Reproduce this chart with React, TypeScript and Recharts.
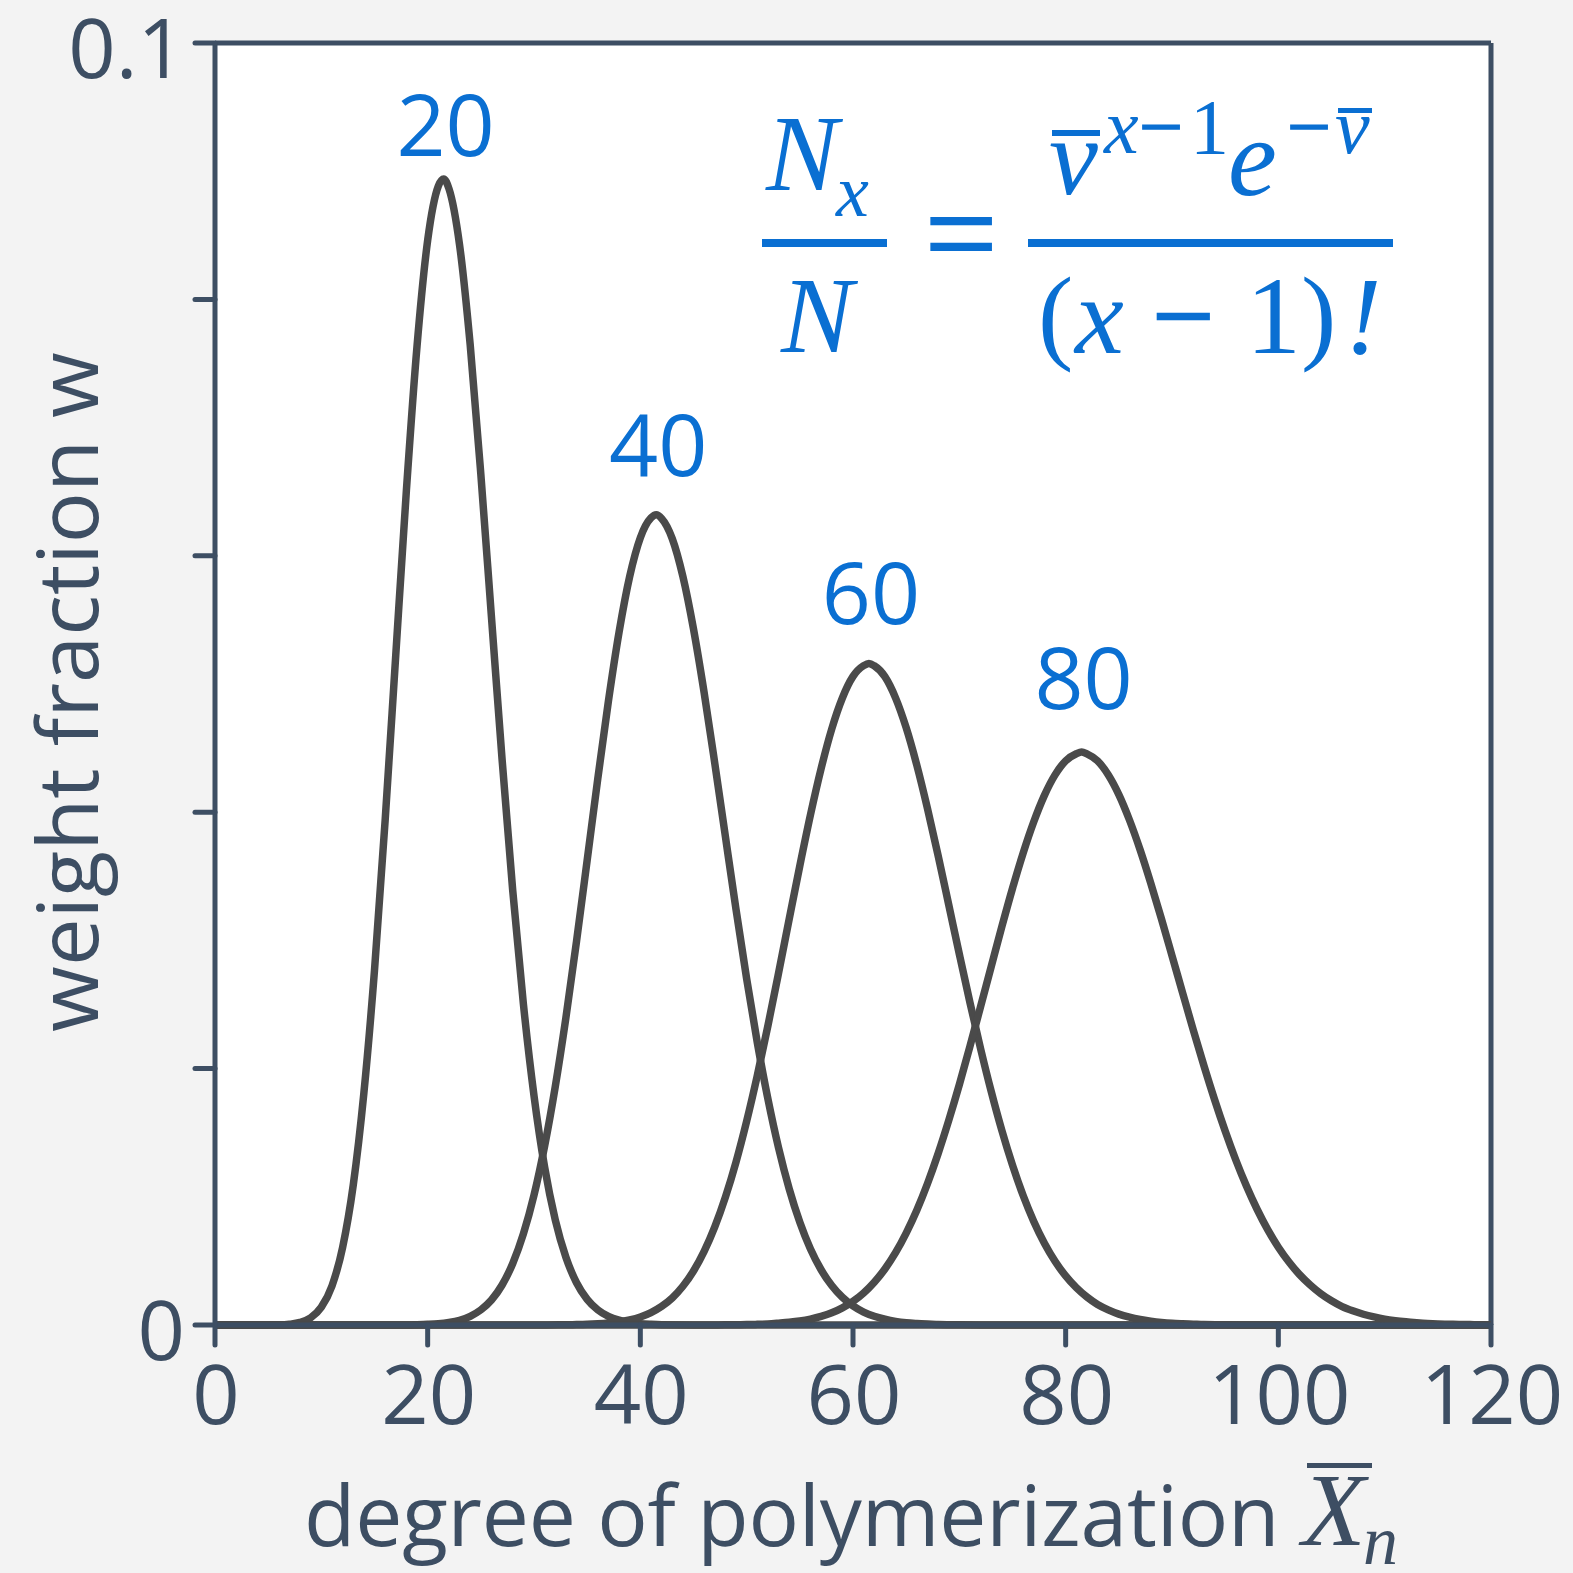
import { LineChart, Line, XAxis, YAxis, CartesianGrid, ReferenceLine, Customized } from 'recharts';

// degree of polymerization x, weight fraction w
const series20: [number, number][] = [
  [0, 0], [5, 0], [6, 0.00001], [7, 0.00006], [8, 0.0002], [9, 0.00056], [10, 0.00139], [11, 0.00305],
  [12, 0.00605], [13, 0.01091], [14, 0.01808], [15, 0.02767], [16, 0.03935], [17, 0.05227], [18, 0.06511],
  [19, 0.07636], [20, 0.08461], [21, 0.08884], [21.5, 0.0894], [22, 0.08864], [23, 0.08425], [24, 0.07645],
  [25, 0.06636], [26, 0.05521], [27, 0.0441], [28, 0.03388], [29, 0.02506], [30, 0.01789], [31, 0.01231],
  [32, 0.0082], [33, 0.00528], [34, 0.0033], [35, 0.002], [36, 0.00118], [37, 0.00067], [38, 0.00038],
  [39, 0.0002], [40, 0.0001], [41, 0.00005], [42, 0.00002], [45, 0], [120, 0],
];
const series40: [number, number][] = [
  [0, 0], [18, 0], [19, 0.00002], [20, 0.00005], [21, 0.0001], [22, 0.0002], [23, 0.00037], [24, 0.00068],
  [25, 0.00118], [26, 0.00195], [27, 0.00312], [28, 0.0048], [29, 0.0071], [30, 0.01013], [31, 0.01397],
  [32, 0.0186], [33, 0.02397], [34, 0.02994], [35, 0.03625], [36, 0.04262], [37, 0.04867], [38, 0.05404],
  [39, 0.05839], [40, 0.06141], [41, 0.06295], [41.5, 0.0632], [42, 0.06291], [43, 0.06134], [44, 0.05839],
  [45, 0.05429], [46, 0.04933], [47, 0.04382], [48, 0.0381], [49, 0.03241], [50, 0.027], [51, 0.02203],
  [52, 0.01762], [53, 0.01381], [54, 0.01062], [55, 0.00801], [56, 0.00593], [57, 0.00431], [58, 0.00308],
  [59, 0.00216], [60, 0.00149], [61, 0.00101], [62, 0.00068], [63, 0.00045], [64, 0.00028], [65, 0.00017],
  [66, 0.00011], [67, 0.00007], [68, 0.00004], [70, 0.00001], [72, 0], [120, 0],
];
const series60: [number, number][] = [
  [0, 0], [31, 0], [33, 0.00002], [34, 0.00003], [35, 0.00005], [36, 0.00009], [37, 0.00015], [38, 0.00024],
  [39, 0.0004], [40, 0.00063], [41, 0.00097], [42, 0.00145], [43, 0.00211], [44, 0.00302], [45, 0.00421],
  [46, 0.00574], [47, 0.00765], [48, 0.00997], [49, 0.01272], [50, 0.0159], [51, 0.01946], [52, 0.02335],
  [53, 0.02746], [54, 0.03167], [55, 0.03583], [56, 0.0398], [57, 0.0434], [58, 0.04649], [59, 0.04891],
  [60, 0.05059], [61, 0.05143], [61.5, 0.0516], [62, 0.05142], [63, 0.05057], [64, 0.04892], [65, 0.04659],
  [66, 0.04367], [67, 0.0403], [68, 0.03663], [69, 0.03279], [70, 0.02893], [71, 0.02515], [72, 0.02155],
  [73, 0.01821], [74, 0.01517], [75, 0.01247], [76, 0.0101], [77, 0.00808], [78, 0.00638], [79, 0.00497],
  [80, 0.00383], [81, 0.00291], [82, 0.00218], [83, 0.0016], [84, 0.00118], [85, 0.00085], [86, 0.00061],
  [87, 0.00043], [88, 0.0003], [89, 0.0002], [90, 0.00013], [91, 0.00009], [92, 0.00006], [93, 0.00003],
  [95, 0.00001], [97, 0], [120, 0],
];
const series80: [number, number][] = [
  [0, 0], [46, 0], [49, 0.00002], [50, 0.00003], [51, 0.00005], [52, 0.00008], [53, 0.00014], [54, 0.00021],
  [55, 0.00031], [56, 0.00046], [57, 0.00067], [58, 0.00095], [59, 0.00134], [60, 0.00184], [61, 0.0025],
  [62, 0.00334], [63, 0.00437], [64, 0.00564], [65, 0.00717], [66, 0.00895], [67, 0.01102], [68, 0.01336],
  [69, 0.01595], [70, 0.01875], [71, 0.02174], [72, 0.02484], [73, 0.02797], [74, 0.03108], [75, 0.03406],
  [76, 0.03681], [77, 0.03925], [78, 0.04131], [79, 0.04291], [80, 0.04401], [81, 0.04456], [81.5, 0.0447],
  [82, 0.04455], [83, 0.044], [84, 0.04292], [85, 0.04137], [86, 0.03939], [87, 0.03707], [88, 0.03447],
  [89, 0.0317], [90, 0.02881], [91, 0.0259], [92, 0.02301], [93, 0.02023], [94, 0.01759], [95, 0.01513],
  [96, 0.01287], [97, 0.01084], [98, 0.00903], [99, 0.00744], [100, 0.00607], [101, 0.00491], [102, 0.00393],
  [103, 0.00312], [104, 0.00244], [105, 0.00189], [106, 0.00144], [107, 0.00111], [108, 0.00084],
  [109, 0.00063], [110, 0.00046], [111, 0.00034], [112, 0.00025], [113, 0.00018], [114, 0.00012],
  [115, 0.00008], [116, 0.00006], [117, 0.00004], [118, 0.00003], [119, 0.00001], [120, 0.00001],
];

const seriesNames = ['20', '40', '60', '80'];
const allSeries = [series20, series40, series60, series80];

const xTicks = [0, 20, 40, 60, 80, 100, 120];
const yTicks = [0, 0.02, 0.04, 0.06, 0.08, 0.1];
const yTickLabels = ['0', '', '', '', '', '0.1'];

const BG = '#f3f3f3';
const AXIS = '#3d4e63';
const CURVE = '#4a4a4a';
const BLUE = '#0a6fd2';
const SANS = '"Open Sans", "Noto Sans", sans-serif';
const SERIF = '"Liberation Serif", "Times New Roman", serif';

// how far above each peak its label sits
const labelLift = [23, 39, 39, 43];

function YTick(props: any) {
  const { x, y, payload } = props;
  const i = yTicks.findIndex((t) => Math.abs(t - payload.value) < 1e-9);
  const label = i >= 0 ? yTickLabels[i] : '';
  if (!label) return <g />;
  return (
    <text x={x} y={y} dx={-8} dy={35} textAnchor="end" fill={AXIS} fontFamily={SANS} fontSize={83}>
      {label}
    </text>
  );
}

function XTick(props: any) {
  const { x, y, payload } = props;
  return (
    <text x={x} y={y} dx={1} dy={77} textAnchor="middle" fill={AXIS} fontFamily={SANS} fontSize={83}>
      {payload.value}
    </text>
  );
}

function Decor() {
  return (
    <g>
      {/* axis titles */}
      <text
        x={98}
        y={692}
        transform="rotate(-90, 98, 692)"
        textAnchor="middle"
        fill={AXIS}
        fontFamily={SANS}
        fontSize={85}
      >
        weight fraction w
      </text>
      <text x={304} y={1546} fill={AXIS} fontFamily={SANS} fontSize={84} letterSpacing={-0.2}>
        degree of polymerization
      </text>
      <g fill={AXIS} fontFamily={SERIF} fontStyle="italic">
        <text x={1302} y={1545} fontSize={104}>X</text>
        <rect x={1307} y={1463} width={65} height={5} />
        <text x={1363} y={1564} fontSize={70}>n</text>
      </g>

      {/* formula */}
      <g fill={BLUE} fontFamily={SERIF}>
        <text x={766} y={190} fontSize={108} fontStyle="italic">N</text>
        <text x={836} y={216} fontSize={74} fontStyle="italic">x</text>
        <rect x={762} y={239} width={125} height={8} />
        <text x={781} y={352} fontSize={108} fontStyle="italic">N</text>

        <text x={961} y={276} fontSize={128} textAnchor="middle" stroke={BLUE} strokeWidth={2}>=</text>

        <rect x={1052} y={130} width={48} height={6} />
        <text x={1049} y={194} fontSize={110} fontStyle="italic">v</text>
        <text x={1104} y={153} fontSize={78} fontStyle="italic">x</text>
        <text x={1139} y={153} fontSize={78} stroke={BLUE} strokeWidth={1.5}>−</text>
        <text x={1190} y={153} fontSize={78}>1</text>
        <text x={1228} y={195} fontSize={110} fontStyle="italic">e</text>
        <text x={1287} y={153} fontSize={78} stroke={BLUE} strokeWidth={1.5}>−</text>
        <rect x={1338} y={108} width={34} height={5} />
        <text x={1335} y={153} fontSize={78} fontStyle="italic">v</text>

        <rect x={1028} y={239} width={365} height={8} />

        <text x={1038} y={350} fontSize={106}>(</text>
        <text x={1075} y={353} fontSize={110} fontStyle="italic">x</text>
        <text x={1152} y={353} fontSize={110} stroke={BLUE} strokeWidth={2}>−</text>
        <text x={1246} y={353} fontSize={110}>1</text>
        <text x={1301} y={350} fontSize={106}>)</text>
        <text x={1345} y={353} fontSize={110} fontStyle="italic">!</text>
      </g>
    </g>
  );
}

function peakLabel(si: number, peakIdx: number) {
  return (props: any) => {
    const { x, y, index } = props;
    if (index !== peakIdx) return <g />;
    return (
      <text
        x={x + 2}
        y={y - labelLift[si]}
        textAnchor="middle"
        fill={BLUE}
        fontFamily={SANS}
        fontSize={86}
      >
        {seriesNames[si]}
      </text>
    );
  };
}

export default function App() {
  const lines = allSeries.map((s, si) => {
    const data = s.map(([x, w]) => ({ x, w }));
    let peakIdx = 0;
    data.forEach((d, i) => {
      if (d.w > data[peakIdx].w) peakIdx = i;
    });
    return { data, peakIdx, si };
  });

  return (
    <div style={{ position: 'absolute', left: 0, top: 0, width: 1573, height: 1573, background: BG }}>
      <LineChart width={1573} height={1573} margin={{ top: 43, right: 82, bottom: 188, left: 115 }}>
        <CartesianGrid horizontal={false} vertical={false} fill="#ffffff" fillOpacity={1} />
        <XAxis
          type="number"
          dataKey="x"
          domain={[0, 120]}
          ticks={xTicks}
          height={60}
          tick={<XTick />}
          tickSize={20}
          tickLine={{ stroke: AXIS, strokeWidth: 5, strokeLinecap: 'round' }}
          axisLine={{ stroke: AXIS, strokeWidth: 5 }}
        />
        <YAxis
          type="number"
          domain={[0, 0.1]}
          ticks={yTicks}
          width={100}
          tick={<YTick />}
          tickSize={20}
          tickLine={{ stroke: AXIS, strokeWidth: 5, strokeLinecap: 'round' }}
          axisLine={{ stroke: AXIS, strokeWidth: 5 }}
        />
        <ReferenceLine y={0.1} stroke={AXIS} strokeWidth={5} />
        <ReferenceLine x={120} stroke={AXIS} strokeWidth={5} />
        {lines.map(({ data, peakIdx, si }) => (
          <Line
            key={seriesNames[si]}
            data={data}
            dataKey="w"
            type="monotone"
            stroke={CURVE}
            strokeWidth={7.5}
            dot={false}
            activeDot={false}
            isAnimationActive={false}
            label={peakLabel(si, peakIdx)}
          />
        ))}
        <Customized component={<Decor />} />
      </LineChart>
    </div>
  );
}
